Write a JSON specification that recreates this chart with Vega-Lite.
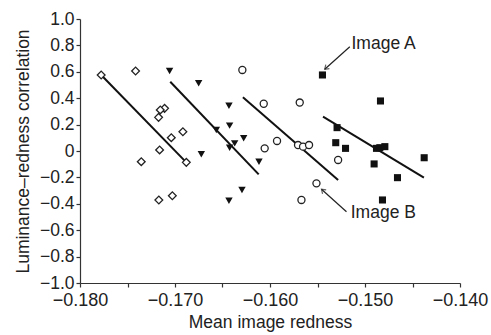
{
  "$schema": "https://vega.github.io/schema/vega-lite/v6.json",
  "width": 380,
  "height": 264,
  "autosize": {"type": "none"},
  "padding": {"left": 80, "top": 19, "right": 31, "bottom": 52},
  "background": "white",
  "config": {
    "view": {"stroke": null},
    "font": "Liberation Sans",
    "axis": {
      "grid": false,
      "domainColor": "#333",
      "domainWidth": 1.2,
      "tickColor": "#333",
      "tickWidth": 1.2,
      "tickSize": 4,
      "labelFont": "Liberation Sans",
      "labelFontSize": 18,
      "labelColor": "#222",
      "labelOverlap": false,
      "labelFlush": false,
      "labelBound": false,
      "titleFont": "Liberation Sans",
      "titleFontSize": 17.5,
      "titleFontWeight": "normal",
      "titleColor": "#222"
    }
  },
  "datasets": {
    "pts": [
      {"s": "diamond", "x": -0.17777, "y": 0.576},
      {"s": "diamond", "x": -0.17415, "y": 0.606},
      {"s": "diamond", "x": -0.17110, "y": 0.323},
      {"s": "diamond", "x": -0.17155, "y": 0.311},
      {"s": "diamond", "x": -0.17173, "y": 0.255},
      {"s": "diamond", "x": -0.16917, "y": 0.146},
      {"s": "diamond", "x": -0.17039, "y": 0.101},
      {"s": "diamond", "x": -0.17162, "y": 0.008},
      {"s": "diamond", "x": -0.17355, "y": -0.081},
      {"s": "diamond", "x": -0.16881, "y": -0.086},
      {"s": "diamond", "x": -0.17170, "y": -0.371},
      {"s": "diamond", "x": -0.17028, "y": -0.339},
      {"s": "triangle", "x": -0.17057, "y": 0.606},
      {"s": "triangle", "x": -0.16751, "y": 0.513},
      {"s": "triangle", "x": -0.16432, "y": 0.343},
      {"s": "triangle", "x": -0.16425, "y": 0.192},
      {"s": "triangle", "x": -0.16565, "y": 0.159},
      {"s": "triangle", "x": -0.16277, "y": 0.096},
      {"s": "triangle", "x": -0.16372, "y": 0.058},
      {"s": "triangle", "x": -0.16425, "y": 0.025},
      {"s": "triangle", "x": -0.16723, "y": -0.025},
      {"s": "triangle", "x": -0.16116, "y": -0.081},
      {"s": "triangle", "x": -0.16295, "y": -0.295},
      {"s": "triangle", "x": -0.16432, "y": -0.377},
      {"s": "circle", "x": -0.16291, "y": 0.614},
      {"s": "circle", "x": -0.16066, "y": 0.358},
      {"s": "circle", "x": -0.15687, "y": 0.367},
      {"s": "circle", "x": -0.15926, "y": 0.076},
      {"s": "circle", "x": -0.16056, "y": 0.020},
      {"s": "circle", "x": -0.15705, "y": 0.045},
      {"s": "circle", "x": -0.15652, "y": 0.033},
      {"s": "circle", "x": -0.15589, "y": 0.045},
      {"s": "circle", "x": -0.15283, "y": -0.068},
      {"s": "circle", "x": -0.15511, "y": -0.245},
      {"s": "circle", "x": -0.15669, "y": -0.371},
      {"s": "square", "x": -0.15448, "y": 0.576},
      {"s": "square", "x": -0.14837, "y": 0.379},
      {"s": "square", "x": -0.15294, "y": 0.177},
      {"s": "square", "x": -0.15308, "y": 0.063},
      {"s": "square", "x": -0.15205, "y": 0.020},
      {"s": "square", "x": -0.14879, "y": 0.020},
      {"s": "square", "x": -0.14844, "y": 0.025},
      {"s": "square", "x": -0.14791, "y": 0.033},
      {"s": "square", "x": -0.14377, "y": -0.051},
      {"s": "square", "x": -0.14904, "y": -0.098},
      {"s": "square", "x": -0.14658, "y": -0.202},
      {"s": "square", "x": -0.14816, "y": -0.371}
    ],
    "fits": [
      {"s": "diamond", "x": -0.17777, "y": 0.576, "x2": -0.16881, "y2": -0.086},
      {"s": "triangle", "x": -0.17050, "y": 0.525, "x2": -0.16119, "y2": -0.177},
      {"s": "circle", "x": -0.16285, "y": 0.407, "x2": -0.15283, "y2": -0.220},
      {"s": "square", "x": -0.15442, "y": 0.260, "x2": -0.14380, "y2": -0.202}
    ],
    "notes": [
      {"label": "Image A", "tx": -0.15142, "ty": 0.811, "x": -0.15160, "y": 0.790, "x2": -0.15424, "y2": 0.619},
      {"label": "Image B", "tx": -0.15150, "ty": -0.470, "x": -0.15195, "y": -0.460, "x2": -0.15458, "y2": -0.290}
    ]
  },
  "layer": [
    {
      "data": {"name": "fits"},
      "mark": {"type": "rule", "color": "#111", "strokeWidth": 2},
      "encoding": {
        "x": {
          "field": "x", "type": "quantitative",
          "scale": {"domain": [-0.18, -0.14], "nice": false, "zero": false},
          "axis": {
            "title": "Mean image redness",
            "values": [-0.18, -0.175, -0.17, -0.165, -0.16, -0.155, -0.15, -0.145, -0.14],
            "tickCount": 20,
            "labelExpr": "abs(round(datum.value*1000)) % 10 == 0 ? replace(format(datum.value, '.3f'), '-', '−') : ''",
            "labelOverlap": false,
            "labelPadding": 4,
            "titlePadding": 4
          }
        },
        "y": {
          "field": "y", "type": "quantitative",
          "scale": {"domain": [-1, 1], "nice": false},
          "axis": {
            "title": "Luminance–redness correlation",
            "values": [-1, -0.8, -0.6, -0.4, -0.2, 0, 0.2, 0.4, 0.6, 0.8, 1],
            "tickCount": 20,
            "labelExpr": "datum.value == 0 ? '0' : replace(format(datum.value, '.1f'), '-', '−')",
            "labelFontSize": 17.5,
            "labelOverlap": false,
            "labelPadding": 2,
            "titlePadding": 7
          }
        },
        "x2": {"field": "x2"},
        "y2": {"field": "y2"}
      }
    },
    {
      "data": {"name": "pts"},
      "transform": [{"filter": "datum.s == 'diamond'"}],
      "mark": {"type": "point", "shape": "diamond", "filled": false, "stroke": "#222", "strokeWidth": 1.3, "size": 60, "fill": "white", "fillOpacity": 1},
      "encoding": {"x": {"field": "x", "type": "quantitative"}, "y": {"field": "y", "type": "quantitative"}}
    },
    {
      "data": {"name": "pts"},
      "transform": [{"filter": "datum.s == 'triangle'"}],
      "mark": {"type": "point", "shape": "triangle-down", "filled": true, "color": "#111", "opacity": 1, "size": 55},
      "encoding": {"x": {"field": "x", "type": "quantitative"}, "y": {"field": "y", "type": "quantitative"}}
    },
    {
      "data": {"name": "pts"},
      "transform": [{"filter": "datum.s == 'circle'"}],
      "mark": {"type": "point", "shape": "circle", "filled": false, "stroke": "#222", "strokeWidth": 1.3, "size": 50, "fill": "white", "fillOpacity": 1},
      "encoding": {"x": {"field": "x", "type": "quantitative"}, "y": {"field": "y", "type": "quantitative"}}
    },
    {
      "data": {"name": "pts"},
      "transform": [{"filter": "datum.s == 'square'"}],
      "mark": {"type": "point", "shape": "square", "filled": true, "color": "#111", "opacity": 1, "size": 50},
      "encoding": {"x": {"field": "x", "type": "quantitative"}, "y": {"field": "y", "type": "quantitative"}}
    },
    {
      "data": {"name": "notes"},
      "mark": {"type": "rule", "color": "#222", "strokeWidth": 1.2},
      "encoding": {
        "x": {"field": "x", "type": "quantitative"},
        "y": {"field": "y", "type": "quantitative"},
        "x2": {"field": "x2"},
        "y2": {"field": "y2"}
      }
    },
    {
      "data": {"name": "notes"},
      "transform": [{"filter": "datum.label == 'Image A'"}],
      "mark": {"type": "point", "shape": "M -0.7 1 L 0 0 L 0.7 1", "filled": false, "stroke": "#222", "strokeWidth": 1.2, "size": 60, "angle": 228},
      "encoding": {"x": {"field": "x2", "type": "quantitative"}, "y": {"field": "y2", "type": "quantitative"}}
    },
    {
      "data": {"name": "notes"},
      "transform": [{"filter": "datum.label == 'Image B'"}],
      "mark": {"type": "point", "shape": "M -0.7 1 L 0 0 L 0.7 1", "filled": false, "stroke": "#222", "strokeWidth": 1.2, "size": 60, "angle": 312},
      "encoding": {"x": {"field": "x2", "type": "quantitative"}, "y": {"field": "y2", "type": "quantitative"}}
    },
    {
      "data": {"name": "notes"},
      "mark": {"type": "text", "align": "left", "baseline": "middle", "fontSize": 17.5, "font": "Liberation Sans", "color": "#222"},
      "encoding": {
        "x": {"field": "tx", "type": "quantitative"},
        "y": {"field": "ty", "type": "quantitative"},
        "text": {"field": "label"}
      }
    }
  ]
}
